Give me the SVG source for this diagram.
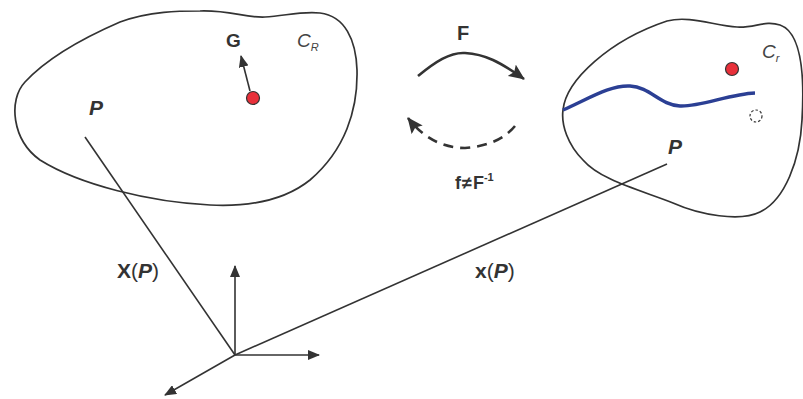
<svg xmlns="http://www.w3.org/2000/svg" width="803" height="399" viewBox="0 0 803 399">
<style>
.ol{fill:none;stroke:#333;stroke-width:1.7}
.ln{fill:none;stroke:#333;stroke-width:1.6}
.bold{font-family:"Liberation Sans",Arial,sans-serif;font-weight:bold;fill:#333}
.it{font-family:"Liberation Sans",Arial,sans-serif;font-style:italic;fill:#444}
.reg{font-family:"Liberation Sans",Arial,sans-serif;fill:#333}
.dot{fill:#e8303a;stroke:#333;stroke-width:1.2}
</style>
<defs>
<marker id="ah" markerUnits="userSpaceOnUse" markerWidth="12" markerHeight="10" refX="11" refY="5" orient="auto">
<path d="M0,0 L12,5 L0,10 Z" fill="#333"/>
</marker>
<marker id="ahb" markerUnits="userSpaceOnUse" markerWidth="16" markerHeight="14" refX="15" refY="7" orient="auto">
<path d="M0,0 L16,7 L0,14 L3,7 Z" fill="#333"/>
</marker>
</defs>
<rect width="803" height="399" fill="#fff"/>
<g id="body-reference">
<path class="ol" d="M200,11 C230,10 245,18 265,17 C285,16 300,11 320,13 C345,16 356,40 357,70 C358,110 345,150 310,180 C285,200 250,207 210,205 C150,202 80,185 40,160 C12,140 8,100 25,82 C50,55 90,35 120,22 C150,11 180,11 200,11 Z"/>
<text class="bold" x="226" y="47" font-size="19">G</text>
<text class="it" x="297" y="47" font-size="19">C<tspan font-size="11" dy="4">R</tspan></text>
<circle class="dot" cx="253" cy="98" r="6.5"/>
<line class="ln" x1="250" y1="91" x2="241" y2="56" marker-end="url(#ah)"/>
<text class="bold" x="89" y="115" font-size="21" font-style="italic">P</text>
</g>
<g id="body-current">
<path class="ol" d="M563,110 C566,80 610,40 667,21 C690,15 715,26 737,27 C755,28 765,20 780,25 C800,32 805,70 802,120 C800,160 785,200 760,212 C740,222 700,215 673,203 C640,190 600,180 583,160 C568,145 561,125 563,110 Z"/>
<path d="M563,110 C590,98 610,85 630,86 C650,87 660,105 680,106 C700,107 730,94 755,93" fill="none" stroke="#2b3f94" stroke-width="3.5"/>
<circle class="dot" cx="732" cy="69" r="6.5"/>
<circle cx="756" cy="116" r="6" fill="none" stroke="#333" stroke-width="1.2" stroke-dasharray="2.5,2"/>
<text class="it" x="762" y="58" font-size="19">C<tspan font-size="11" dy="4">r</tspan></text>
<text class="bold" x="668" y="154" font-size="21" font-style="italic">P</text>
</g>
<g id="axes">
<line class="ln" x1="235" y1="355" x2="235" y2="266" marker-end="url(#ah)"/>
<line class="ln" x1="235" y1="355" x2="319" y2="355" marker-end="url(#ah)"/>
<line class="ln" x1="235" y1="355" x2="165" y2="395" marker-end="url(#ah)"/>
</g>
<g id="connectors">
<line class="ln" x1="85" y1="137" x2="235" y2="355"/>
<line class="ln" x1="235" y1="355" x2="667" y2="164"/>
<path d="M418,76 C435,62 450,52 465,53 C485,54 500,62 524,79" fill="none" stroke="#333" stroke-width="2.6" marker-end="url(#ahb)"/>
<path d="M515,126 C505,138 490,146 465,148 C445,148 425,140 408,118" fill="none" stroke="#333" stroke-width="2.6" stroke-dasharray="10,7" marker-end="url(#ahb)"/>
</g>
<g id="labels">
<text class="bold" x="457" y="40" font-size="20">F</text>
<text class="bold" x="455" y="189" font-size="18">f<tspan dx="1">≠</tspan><tspan dx="1">F</tspan><tspan font-size="11" dy="-8">-1</tspan></text>
<text x="117" y="278" font-size="21" class="reg"><tspan font-weight="bold">X</tspan>(<tspan font-weight="bold" font-style="italic">P</tspan>)</text>
<text x="475" y="278" font-size="21" class="reg"><tspan font-weight="bold">x</tspan>(<tspan font-weight="bold" font-style="italic">P</tspan>)</text>
</g>
</svg>
